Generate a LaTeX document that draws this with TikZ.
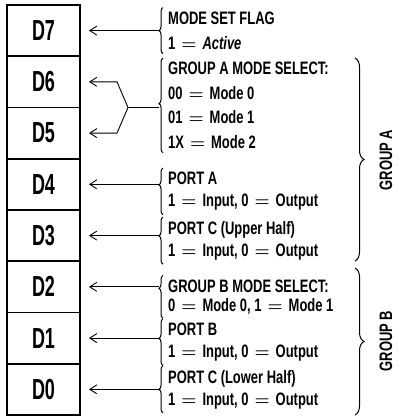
\documentclass[tikz,border=0pt]{standalone}
\usepackage{amsmath}
\usepackage{fontspec}
\setmainfont{Liberation Sans}[FakeStretch=0.72]
\newfontfamily\cellfont{Liberation Sans}[FakeStretch=0.62]
\usetikzlibrary{arrows.meta,calc,decorations.pathreplacing,positioning}
\newcommand{\eqs}{\hspace{6pt}$\boldsymbol{=}$\hspace{6pt}}
\tikzset{cellbox/.style={draw,line width=1.6pt,outer sep=0pt,minimum width=73pt,minimum height=51.25pt,inner sep=0pt,font=\cellfont\fontsize{29}{29}\selectfont\bfseries},
note/.style={anchor=west,align=left,inner sep=0pt,font=\fontsize{18}{22}\selectfont\bfseries},
pointer/.style={line width=.9pt,-{Straight Barb[length=7pt,width=9pt]},shorten >=9pt},
leftbrace/.style={decorate,decoration={brace,amplitude=4pt,aspect=#1},line width=1pt},
leftbrace/.default=0.5,
groupbrace/.style={decorate,decoration={brace,amplitude=9pt},line width=1pt},
grouplabel/.style={rotate=90,inner sep=0pt,font=\fontsize{18}{18}\selectfont\bfseries}}

\begin{document}
\begin{tikzpicture}[x=1pt,y=-1pt]
\useasboundingbox (0,0) rectangle (397,419);
% register cells
\node[cellbox] (d7) at (43.5,30.6) {D7};
\node[cellbox,below=0pt of d7] (d6) {D6};
\node[cellbox,below=0pt of d6] (d5) {D5};
\node[cellbox,below=0pt of d5] (d4) {D4};
\node[cellbox,below=0pt of d4] (d3) {D3};
\node[cellbox,below=0pt of d3] (d2) {D2};
\node[cellbox,below=0pt of d2] (d1) {D1};
\node[cellbox,below=0pt of d1] (d0) {D0};
% bit descriptions
\node[note,font=\fontsize{18}{25}\selectfont\bfseries] (t7) at ($(d7.east)+(88,0)$) {MODE SET FLAG\\1\eqs\textit{Active}};
\node[note,font=\fontsize{18}{24.5}\selectfont\bfseries] (t65) at ($(d6.east)!.5!(d5.east)+(88,-2)$) {GROUP A MODE SELECT:\\00\eqs Mode 0\\01\eqs Mode 1\\1X\eqs Mode 2};
\node[note] (t4) at ($(d4.east)+(88,7)$) {PORT A\\1\eqs Input, 0\eqs Output};
\node[note] (t3) at ($(d3.east)+(88,5)$) {PORT C (Upper Half)\\1\eqs Input, 0\eqs Output};
\node[note,font=\fontsize{18}{19}\selectfont\bfseries] (t2) at ($(d2.east)+(88,10)$) {GROUP B MODE SELECT:\\0\eqs Mode 0, 1\eqs Mode 1};
\node[note] (t1) at ($(d1.east)+(88,4)$) {PORT B\\1\eqs Input, 0\eqs Output};
\node[note] (t0) at ($(d0.east)+(88,0)$) {PORT C (Lower Half)\\1\eqs Input, 0\eqs Output};
% small braces and their tips
\draw[leftbrace] ($(t7.south west)+(-5,4)$) -- ($(t7.north west)+(-5,-4)$);
\draw[leftbrace=0.52] ($(t65.south west)+(-5,4)$) -- ($(t65.north west)+(-5,-4)$);
\draw[leftbrace=0.64] ($(t4.south west)+(-5,4)$) -- ($(t4.north west)+(-5,-4)$);
\draw[leftbrace=0.6] ($(t3.south west)+(-5,4)$) -- ($(t3.north west)+(-5,-4)$);
\draw[leftbrace=0.7] ($(t2.south west)+(-5,4)$) -- ($(t2.north west)+(-5,-4)$);
\draw[leftbrace=0.58] ($(t1.south west)+(-5,4)$) -- ($(t1.north west)+(-5,-4)$);
\draw[leftbrace] ($(t0.south west)+(-5,4)$) -- ($(t0.north west)+(-5,-4)$);
\coordinate (b7) at ($(d7.east)+(79,0)$);
\coordinate (b65) at ($(d6.east)!.5!(d5.east)+(79,0)$);
\coordinate (b4) at ($(d4.east)+(79,0)$);
\coordinate (b3) at ($(d3.east)+(79,0)$);
\coordinate (b2) at ($(d2.east)+(79,0)$);
\coordinate (b1) at ($(d1.east)+(79,0)$);
\coordinate (b0) at ($(d0.east)+(79,0)$);
\coordinate (fork) at ($(b65)+(-31,0)$);
% arrows to the cells
\draw[pointer] (b7) -- (d7.east);
\draw[pointer] (b65) -- (fork) -- ($(fork |- d6.east)+(-11,0)$) -- (d6.east);
\draw[pointer] (fork) -- ($(fork |- d5.east)+(-11,0)$) -- (d5.east);
\draw[pointer] (b4) -- (d4.east);
\draw[pointer] (b3) -- (d3.east);
\draw[pointer] (b2) -- (d2.east);
\draw[pointer] (b1) -- (d1.east);
\draw[pointer] (b0) -- (d0.east);
% groups
\draw[groupbrace] (355,58) -- (355,261);
\draw[groupbrace] (355,268) -- (355,415);
\node[grouplabel] (ga) at (386,160) {GROUP A};
\node[grouplabel] (gb) at (386,341) {GROUP B};
\end{tikzpicture}
\end{document}
